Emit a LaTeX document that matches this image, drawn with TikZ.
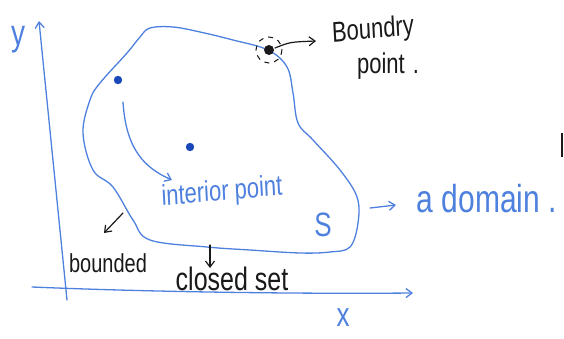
\documentclass[tikz,border=0pt]{standalone}
\usepackage{fontspec}
\setmainfont{Liberation Sans}
\usetikzlibrary{arrows.meta}
\definecolor{pen}{RGB}{78,128,222}
\definecolor{ink}{RGB}{25,25,25}
\definecolor{dotblue}{RGB}{25,70,185}
\tikzset{
  blueline/.style={draw=pen,line width=1.3pt,line cap=round,line join=round},
  inkline/.style={draw=ink,line width=1.2pt,line cap=round,line join=round},
  barb/.style={-{Straight Barb[length=6pt,width=9pt]}},
  hand/.style={inner sep=0pt,transform shape,yscale=1.3},
  bluetext/.style={hand,text=pen},
  inktext/.style={hand,text=ink},
}
\begin{document}
\begin{tikzpicture}[x=1pt,y=-1pt]
\useasboundingbox (0,0) rectangle (564,339);
% axes
\coordinate (ybot) at (67,300);
\coordinate (ytop) at (39,21);
\coordinate (xleft) at (32,287);
\coordinate (xright) at (413,293);
\draw[blueline,barb] (ybot) -- (ytop);
\draw[blueline,barb] (xleft) .. controls (150,292) and (300,294) .. (xright);
\node[bluetext,font=\fontsize{28}{28}\selectfont] (ylab) at (18,40) {y};
\node[bluetext,font=\fontsize{26}{26}\selectfont] (xlab) at (343,318) {x};
% the set S
\draw[blueline] plot[smooth cycle,tension=0.6] coordinates {
 (150,28) (173,27) (200,32) (233,40) (268,50) (287,67) (293,93) (298,123)
 (313,140) (340,170) (357,197) (358,223) (350,247) (330,252) (300,253)
 (250,250) (207,247) (150,240) (133,220) (113,187) (93,170) (83,133)
 (90,100) (100,83) (127,53) (140,37)};
\node[bluetext,font=\fontsize{26}{26}\selectfont] (S) at (323,225) {S};
% interior points
\fill[dotblue] (118,80) circle (4.2);
\fill[dotblue] (190,147) circle (4.2);
\coordinate (ia) at (123,102);
\coordinate (ib) at (172,180);
\draw[blueline,barb] (ia) .. controls (126,150) and (145,168) .. (ib);
\node[bluetext,font=\fontsize{22}{22}\selectfont,rotate=4] (interior) at (222,193) {interior point};
% boundary point
\fill[ink] (269,50) circle (5);
\draw[ink,line width=1pt,dash pattern=on 5pt off 5pt] (269,50) circle (13);
\coordinate (bp) at (275,48);
\coordinate (bq) at (316,41);
\draw[inkline,barb] (bp) .. controls (290,42) .. (bq);
\node[inktext,font=\fontsize{22}{22}\selectfont,rotate=4] (boundry) at (373,31) {Boundry};
\node[inktext,font=\fontsize{22}{22}\selectfont] (point) at (388,66) {point\hspace{8pt}.};
% domain
\coordinate (da) at (370,208);
\coordinate (db) at (396,205);
\draw[blueline,barb] (da) -- (db);
\node[bluetext,font=\fontsize{30}{30}\selectfont] (domain) at (487,199) {a domain .};
% bounded / closed set
\coordinate (ba) at (123,213);
\coordinate (bb) at (104,233);
\draw[inkline,barb] (ba) -- (bb);
\node[inktext,font=\fontsize{20}{20}\selectfont] (bounded) at (108,263) {bounded};
\coordinate (ca) at (210,245);
\coordinate (cb) at (210,268);
\draw[inkline,barb] (ca) -- (cb);
\node[inktext,font=\fontsize{25}{25}\selectfont] (closed) at (232,279) {closed set};
% fragment at right edge
\coordinate (ma) at (562,133);
\coordinate (mb) at (562,157);
\draw[ink,line width=2.2pt] (ma) -- (mb);
\end{tikzpicture}
\end{document}
